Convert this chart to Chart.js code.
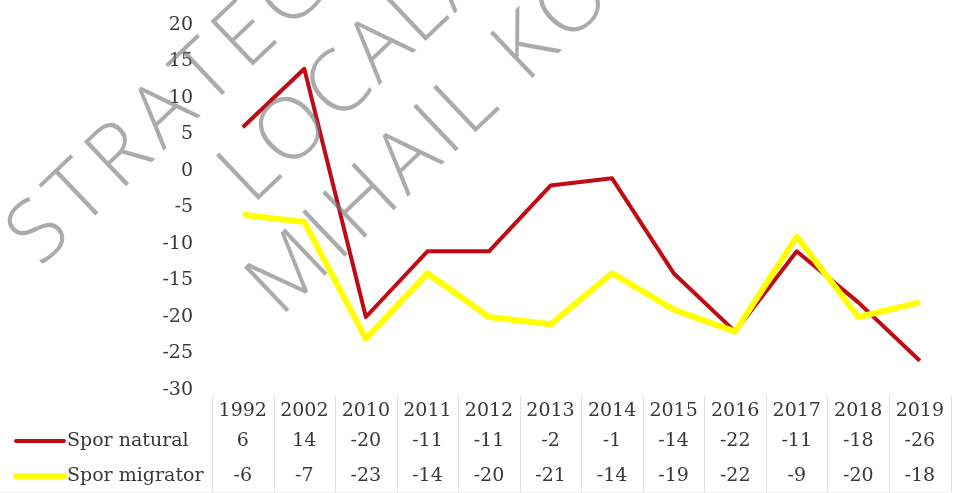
<!DOCTYPE html>
<html>
<head>
<meta charset="utf-8">
<script src="https://cdn.jsdelivr.net/npm/chart.js@4.4.0/dist/chart.umd.min.js"></script>
<style>
  html, body { margin: 0; padding: 0; background: #ffffff; }
  #chart { display: block; }
</style>
</head>
<body>
<canvas id="chart" width="954" height="493"></canvas>
<script>
const years = ['1992', '2002', '2010', '2011', '2012', '2013', '2014', '2015', '2016', '2017', '2018', '2019'];
const sporNatural = [6, 14, -20, -11, -11, -2, -1, -14, -22, -11, -18, -26];
const sporMigrator = [-6, -7, -23, -14, -20, -21, -14, -19, -22, -9, -20, -18];
const seriesNames = ['Spor natural', 'Spor migrator'];
const seriesColors = ['#c00a14', '#ffff00'];
const watermarkLines = ['STRATEGIA', 'LOCALĂ', 'MIHAIL KOGĂLNICEANU'];

const SERIF = "'DejaVu Serif', serif";
const TEXT = '#383838';

// Data table under the x axis (legend keys + values per year)
const dataTable = {
  id: 'dataTable',
  afterDraw(chart) {
    const ctx = chart.ctx;
    const x = chart.scales.x;
    const area = chart.chartArea;
    const rows = [sporNatural, sporMigrator];
    const rowY = [441, 476];
    const half = (x.getPixelForValue(1) - x.getPixelForValue(0)) / 2;

    ctx.save();
    // faint grid of the table
    ctx.strokeStyle = '#e2e2e2';
    ctx.lineWidth = 1;
    for (let i = 0; i <= years.length; i++) {
      const px = Math.round(x.getPixelForValue(i) - half) + 0.5;
      ctx.beginPath();
      ctx.moveTo(px, area.bottom + 6);
      ctx.lineTo(px, 492);
      ctx.stroke();
    }
    ctx.beginPath();
    ctx.moveTo(0, 492.5);
    ctx.lineTo(area.right, 492.5);
    ctx.strokeStyle = '#efefef';
    ctx.stroke();

    ctx.font = '19px ' + SERIF;
    ctx.fillStyle = TEXT;
    ctx.textBaseline = 'middle';
    rows.forEach((vals, r) => {
      // legend key
      ctx.strokeStyle = seriesColors[r];
      ctx.lineWidth = r === 0 ? 4 : 6;
      ctx.lineCap = 'round';
      ctx.beginPath();
      ctx.moveTo(16, rowY[r]);
      ctx.lineTo(64, rowY[r]);
      ctx.stroke();
      ctx.textAlign = 'left';
      ctx.fillText(seriesNames[r], 67, rowY[r]);
      ctx.textAlign = 'center';
      vals.forEach((v, i) => {
        ctx.fillText(String(v), x.getPixelForValue(i), rowY[r]);
      });
    });
    ctx.restore();
  }
};

// Grey diagonal watermark over the plot
const watermark = {
  id: 'watermark',
  afterDraw(chart) {
    const ctx = chart.ctx;
    const starts = [[40, 268], [252, 206], [280, 318]];
    const spacing = ['9px', '4px', '6px'];
    ctx.save();
    ctx.font = "300 86px 'Open Sans', sans-serif";
    ctx.fillStyle = 'rgba(120,120,120,0.62)';
    ctx.textBaseline = 'alphabetic';
    ctx.textAlign = 'left';
    watermarkLines.forEach((t, i) => {
      ctx.save();
      ctx.letterSpacing = spacing[i];
      ctx.translate(starts[i][0], starts[i][1]);
      ctx.rotate(-0.76);
      ctx.fillText(t, 0, 0);
      ctx.restore();
    });
    ctx.restore();
  }
};

new Chart(document.getElementById('chart'), {
  type: 'line',
  data: {
    labels: years,
    datasets: [
      {
        label: seriesNames[0],
        data: sporNatural,
        borderColor: seriesColors[0],
        borderWidth: 4,
        pointRadius: 0,
        tension: 0,
        borderJoinStyle: 'round',
        order: 1
      },
      {
        label: seriesNames[1],
        data: sporMigrator,
        borderColor: seriesColors[1],
        borderWidth: 6,
        pointRadius: 0,
        tension: 0,
        borderJoinStyle: 'round',
        order: 0
      }
    ]
  },
  options: {
    responsive: false,
    animation: false,
    layout: { padding: { top: 25, right: 0, bottom: 68, left: 0 } },
    plugins: {
      legend: { display: false },
      tooltip: { enabled: false }
    },
    scales: {
      x: {
        offset: true,
        grid: { display: false, drawTicks: false },
        border: { display: false },
        ticks: {
          color: TEXT,
          font: { family: SERIF, size: 19 },
          padding: 10,
          maxRotation: 0,
          autoSkip: false
        },
        afterFit(scale) { scale.height = 35; }
      },
      y: {
        min: -30,
        max: 20,
        grid: { display: false, drawTicks: false },
        border: { display: false },
        ticks: {
          stepSize: 5,
          color: TEXT,
          font: { family: SERIF, size: 19 },
          padding: 19
        },
        afterFit(scale) {
          scale.width = 212;
          scale.paddingTop = 0;
          scale.paddingBottom = 0;
        }
      }
    }
  },
  plugins: [dataTable, watermark]
});
</script>
</body>
</html>
